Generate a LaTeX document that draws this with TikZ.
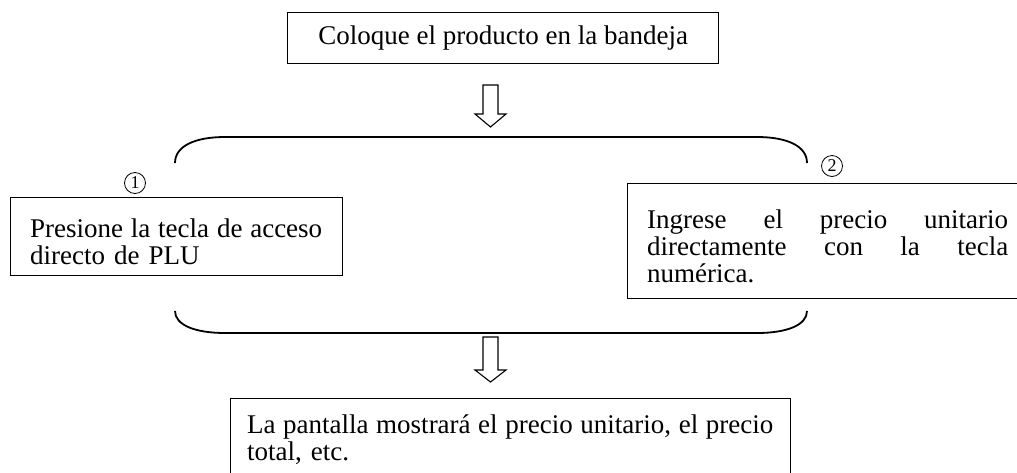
\documentclass[tikz,border=0pt]{standalone}
\usepackage{fontspec}
\setmainfont{Liberation Serif}
\newcommand\jline[2]{\makebox[#1][s]{\spaceskip=0.25em plus 1fil\relax #2}}
\begin{document}
\begin{tikzpicture}[x=1pt,y=-1pt,
  box/.style={draw, line width=1.3pt, inner sep=0pt, anchor=north west},
  txt/.style={inner sep=0pt, anchor=north west, align=left, font=\fontsize{27}{27}\selectfont},
  brace/.style={line width=1.8pt},
  blockarrow/.style={draw, line width=1.1pt, fill=white, line join=miter},
  num/.style={circle, draw, line width=0.8pt, inner sep=0pt, minimum size=21pt, font=\fontsize{18}{18}\selectfont}]
\useasboundingbox (0,0) rectangle (1017,472);
\clip (0,0) rectangle (1017,472);
\node[box, minimum width=431pt, minimum height=51pt, font=\fontsize{27}{27}\selectfont] (top) at (287,12) {Coloque el producto en la bandeja};
% left box
\node[box, minimum width=332pt, minimum height=78pt] (left) at (10,197) {};
\node[txt, text width=292pt] (lefttext) at (30,218)
  {\strut\jline{292pt}{Presione la tecla de acceso}\\directo de PLU};
% right box
\node[box, minimum width=401pt, minimum height=115pt] (right) at (627,183) {};
\node[txt, text width=361pt] (righttext) at (647,209)
  {\strut\jline{361pt}{Ingrese el precio unitario}\\\jline{361pt}{directamente con la tecla}\\numérica.};
% bottom box
\node[box, minimum width=560pt, minimum height=79pt] (bottom) at (230,398) {};
\node[txt, text width=526pt] (bottomtext) at (247,414)
  {\strut\jline{526pt}{La pantalla mostrará el precio unitario, el precio}\\total, etc.};
% circled numbers
\node[num] (n1) at (135,183) {1};
\node[num] (n2) at (832,166) {2};
% braces
\draw[brace] (175,163) .. controls (175,146) and (195,137) .. (225,137) -- (757,137) .. controls (787,137) and (807,146) .. (807,163);
\draw[brace] (175,311) .. controls (175,325) and (195,333) .. (225,333) -- (757,333) .. controls (787,333) and (807,325) .. (807,311);
% block arrows
\draw[blockarrow] (483,85) -- (498,85) -- (498,114) -- (506,114) -- (490.5,127) -- (475,114) -- (483,114) -- cycle;
\draw[blockarrow] (483,337) -- (498,337) -- (498,370) -- (506,370) -- (490.5,382) -- (475,370) -- (483,370) -- cycle;
\end{tikzpicture}
\end{document}
